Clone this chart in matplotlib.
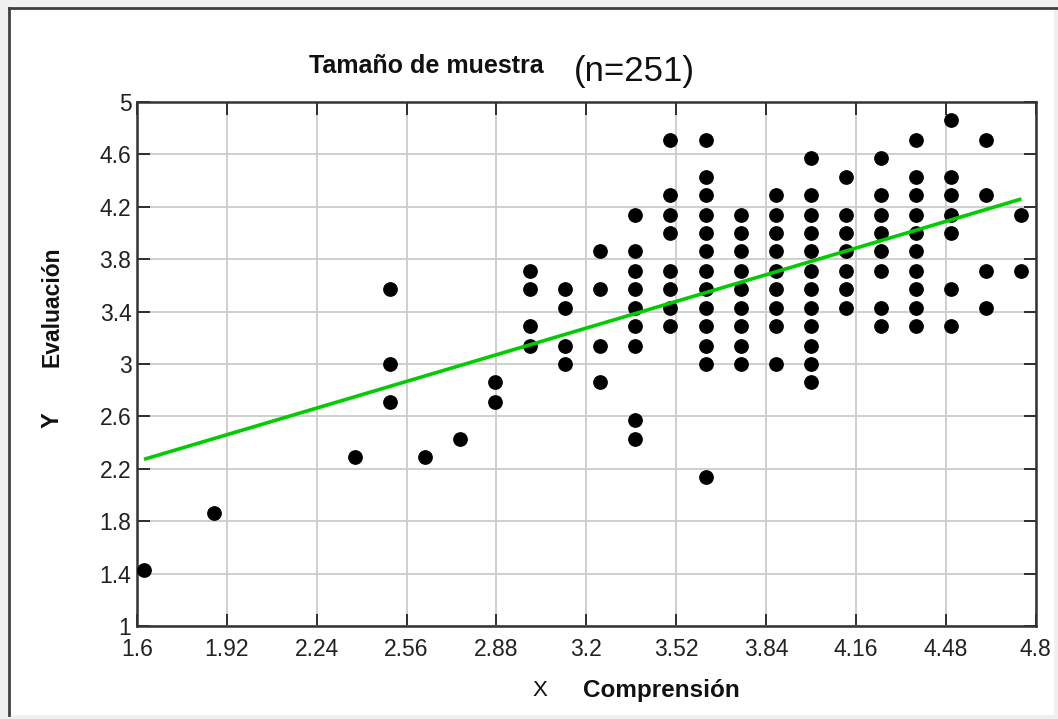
import matplotlib
matplotlib.use("Agg")
import matplotlib.pyplot as plt
from matplotlib.patches import Rectangle
from matplotlib.lines import Line2D

# ---- data ----
x_columns = [1.625, 1.875, 2.375, 2.5, 2.625, 2.75, 2.875, 3.0, 3.125, 3.25,
             3.375, 3.5, 3.625, 3.75, 3.875, 4.0, 4.125, 4.25, 4.375, 4.5,
             4.625, 4.75]
y_columns = [
    [1.43],
    [1.86],
    [2.29],
    [3.57, 3.0, 2.71],
    [2.29],
    [2.43],
    [2.86, 2.71],
    [3.71, 3.57, 3.29, 3.14],
    [3.57, 3.43, 3.14, 3.0],
    [3.86, 3.57, 3.14, 2.86],
    [4.14, 3.86, 3.71, 3.57, 3.43, 3.29, 3.14, 2.57, 2.43],
    [4.71, 4.29, 4.14, 4.0, 3.71, 3.57, 3.43, 3.29],
    [4.71, 4.43, 4.29, 4.14, 4.0, 3.86, 3.71, 3.57, 3.43, 3.29, 3.14, 3.0, 2.14],
    [4.14, 4.0, 3.86, 3.71, 3.57, 3.43, 3.29, 3.14, 3.0],
    [4.29, 4.14, 4.0, 3.86, 3.71, 3.57, 3.43, 3.29, 3.0],
    [4.57, 4.29, 4.14, 4.0, 3.86, 3.71, 3.57, 3.43, 3.29, 3.14, 3.0, 2.86],
    [4.43, 4.14, 4.0, 3.86, 3.71, 3.57, 3.43],
    [4.57, 4.29, 4.14, 4.0, 3.86, 3.71, 3.43, 3.29],
    [4.71, 4.43, 4.29, 4.14, 4.0, 3.86, 3.71, 3.57, 3.43, 3.29],
    [4.86, 4.43, 4.29, 4.14, 4.0, 3.57, 3.29],
    [4.71, 4.29, 3.71, 3.43],
    [4.14, 3.71],
]
fit_slope = 0.636
fit_intercept = 1.239
x_ticks = [1.6, 1.92, 2.24, 2.56, 2.88, 3.2, 3.52, 3.84, 4.16, 4.48, 4.8]
x_tick_labels = ["1.6", "1.92", "2.24", "2.56", "2.88", "3.2", "3.52", "3.84",
                 "4.16", "4.48", "4.8"]
y_ticks = [1, 1.4, 1.8, 2.2, 2.6, 3, 3.4, 3.8, 4.2, 4.6, 5]
y_tick_labels = ["1", "1.4", "1.8", "2.2", "2.6", "3", "3.4", "3.8", "4.2",
                 "4.6", "5"]
title_main = "Tamaño de muestra"
title_n = "(n=251)"
x_label_letter = "X"
x_label_text = "Comprensión"
y_label_letter = "Y"
y_label_text = "Evaluación"

plt.rcParams['font.family'] = ['Liberation Sans', 'DejaVu Sans']

W, H = 1058, 719
fig = plt.figure(figsize=(W / 100, H / 100), dpi=100, facecolor="#f0f0f0")

# white panel with dark left/top border
bg = Rectangle((9 / W, 1 - 715 / H), (1054 - 9) / W, (715 - 8) / H,
               transform=fig.transFigure, facecolor="white",
               edgecolor="none", zorder=-10)
fig.patches.append(bg)
fig.lines.append(Line2D([9 / W, 9 / W], [1 - 715 / H, 1 - 8 / H],
                        transform=fig.transFigure, color="#404040", lw=2, zorder=-5))
fig.lines.append(Line2D([9 / W, 1.0], [1 - 8 / H, 1 - 8 / H],
                        transform=fig.transFigure, color="#404040", lw=2, zorder=-5))

left, right, top, bottom = 137, 1035.5, 102, 626
ax = fig.add_axes([left / W, 1 - bottom / H, (right - left) / W, (bottom - top) / H])
ax.set_zorder(5)
ax.set_facecolor("white")

xs, ys = [], []
for xc, col in zip(x_columns, y_columns):
    for yv in col:
        xs.append(xc)
        ys.append(yv)
ax.plot(xs, ys, linestyle="none", marker="o", markersize=9.6,
        color="black", zorder=3)

x0, x1 = min(x_columns), max(x_columns)
ax.plot([x0, x1], [fit_intercept + fit_slope * x0, fit_intercept + fit_slope * x1],
        color="#00cc00", lw=2.6, zorder=4, solid_capstyle="butt")

ax.set_xlim(1.6, 4.8)
ax.set_ylim(1, 5)
ax.set_xticks(x_ticks)
ax.set_xticklabels(x_tick_labels)
ax.set_yticks(y_ticks)
ax.set_yticklabels(y_tick_labels)
ax.grid(True, color="#cccccc", lw=1.3, zorder=0)
ax.set_axisbelow(True)
ax.tick_params(axis="both", direction="in", length=9, width=1.3, color="#222222",
               labelsize=16.5, labelcolor="#222222", top=True, right=True)
ax.tick_params(axis="x", pad=8.5)
ax.tick_params(axis="y", pad=4)
for s in ax.spines.values():
    s.set_color("#333333")
    s.set_linewidth(1.8)

# titles / labels
fig.text(426 / W, 1 - 66 / H, title_main, ha="center", va="center",
         fontsize=18, fontweight="bold", color="#111111")
fig.text(634 / W, 1 - 71 / H, title_n, ha="center", va="center",
         fontsize=25, color="#111111")
fig.text(540 / W, 1 - 691 / H, x_label_letter, ha="center", va="center",
         fontsize=16, color="#111111")
fig.text(661 / W, 1 - 690 / H, x_label_text, ha="center", va="center",
         fontsize=17.5, fontweight="bold", color="#111111")
fig.text(52 / W, 1 - 420 / H, y_label_letter, ha="center", va="center",
         fontsize=17, fontweight="bold", rotation=90, color="#111111")
fig.text(52 / W, 1 - 307 / H, y_label_text, ha="center", va="center",
         fontsize=16.5, fontweight="bold", rotation=90, color="#111111")

fig.savefig("out.png", dpi=100, facecolor=fig.get_facecolor())
